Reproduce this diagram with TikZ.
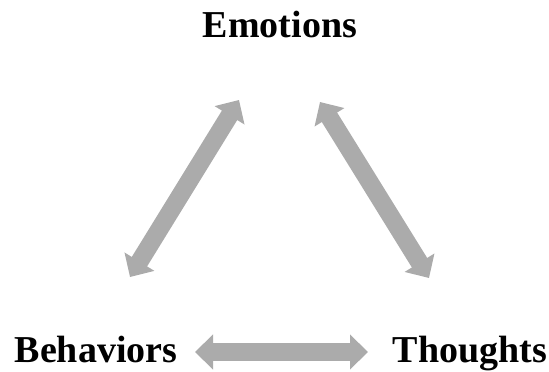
\documentclass[tikz,border=0pt]{standalone}
\usepackage{fontspec}
\setmainfont{Liberation Serif}
\usetikzlibrary{arrows.meta}
\definecolor{arrowgray}{RGB}{171,171,171}
\tikzset{
  label/.style={font=\fontsize{38}{40}\selectfont\bfseries, inner sep=0pt, anchor=base},
  bigarrow/.style={draw=arrowgray, line width=18pt,
    {Triangle[length=18pt,width=34pt]}-{Triangle[length=18pt,width=34pt]}}
}
\begin{document}
\begin{tikzpicture}[x=1pt,y=1pt]
\useasboundingbox (0,0) rectangle (549,372);
\node[label] (emo) at (280,334) {Emotions};
\node[label] (beh) at (96,9) {Behaviors};
\node[label] (tho) at (470,9) {Thoughts};
\coordinate (l1) at (239,272);
\coordinate (l2) at (130,95);
\coordinate (r1) at (320,270);
\coordinate (r2) at (429,94);
\coordinate (h1) at (195,20);
\coordinate (h2) at (368,20);
\draw[bigarrow] (l1) -- (l2);
\draw[bigarrow] (r1) -- (r2);
\draw[bigarrow] (h1) -- (h2);
\end{tikzpicture}
\end{document}
